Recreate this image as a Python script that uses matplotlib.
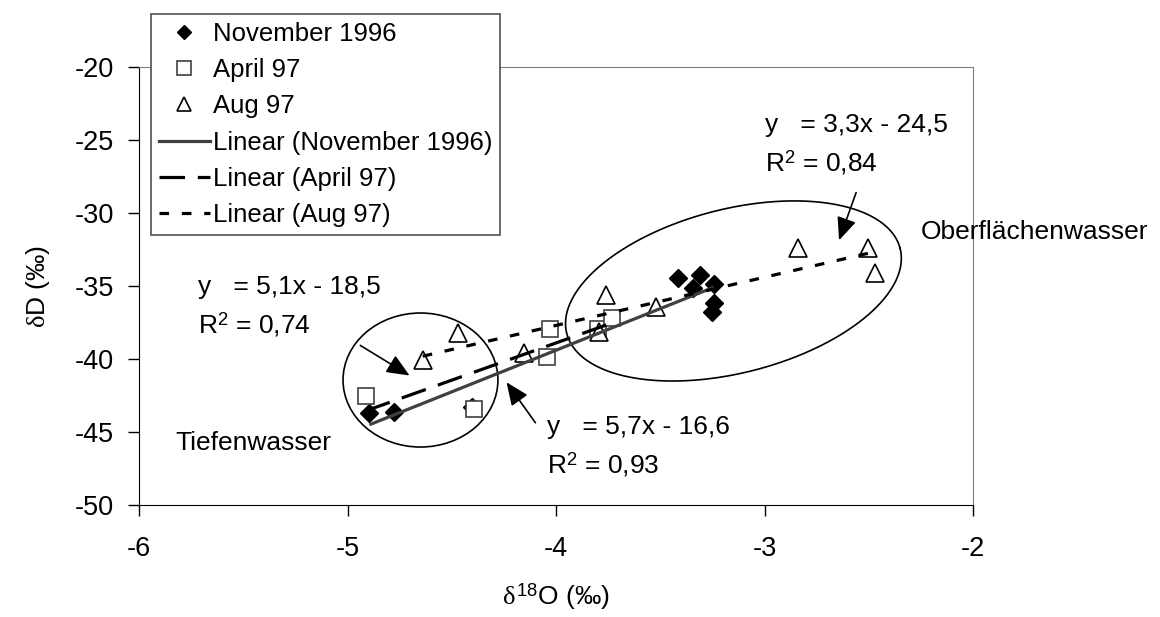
import numpy as np
import matplotlib
matplotlib.use("Agg")
import matplotlib.pyplot as plt
from matplotlib.patches import Ellipse
from matplotlib.lines import Line2D

plt.rcParams['font.family'] = ['Liberation Sans', 'DejaVu Sans']
plt.rcParams['mathtext.fontset'] = 'custom'
plt.rcParams['mathtext.rm'] = 'Liberation Sans'
plt.rcParams['mathtext.it'] = 'Liberation Serif'
plt.rcParams['axes.unicode_minus'] = False

# d18O / dD samples per campaign
nov_x = [-4.895, -4.777, -4.404, -3.413, -3.309, -3.242, -3.344, -3.242, -3.253]
nov_y = [-43.72, -43.65, -43.31, -34.47, -34.25, -34.88, -35.16, -36.18, -36.76]
apr_x = [-4.913, -4.393, -4.029, -4.042, -3.797, -3.733]
apr_y = [-42.51, -43.45, -37.95, -39.84, -37.97, -37.21]
aug_x = [-4.639, -4.471, -4.152, -3.792, -3.760, -3.520, -2.838, -2.502, -2.470]
aug_y = [-40.07, -38.24, -39.61, -38.13, -35.62, -36.42, -32.42, -32.42, -34.13]

# trendline coefficients (slope, intercept) and R2
nov_fit = (5.7, -16.6, "0,93")
apr_fit = (5.1, -18.5, "0,74")
aug_fit = (3.3, -24.5, "0,84")

fig = plt.figure(figsize=(11.6, 6.17), dpi=100)
ax = fig.add_axes([139/1160, 1-505/617, (973-139)/1160, (505-67)/617])

ax.set_xlim(-6, -2)
ax.set_ylim(-50, -20)
ax.set_xticks([-6, -5, -4, -3, -2])
ax.set_yticks(np.arange(-50, -19, 5))
ax.tick_params(direction='out', length=8, width=1, labelsize=19.5, colors='black')
ax.tick_params(axis='y', pad=10)
ax.tick_params(axis='x', pad=14)
for s in ['top', 'right']:
    ax.spines[s].set_color('#808080')
for s in ['left', 'bottom']:
    ax.spines[s].set_color('black')

ax.set_xlabel(r"$\delta^{\mathregular{18}}$O (‰)", fontsize=19, labelpad=14)
ax.set_ylabel(r"$\delta$D (‰)", fontsize=19, labelpad=16)

# markers
ax.plot(nov_x, nov_y, linestyle='none', marker='D', ms=9, mfc='black', mec='black', zorder=2)
ax.plot(apr_x, apr_y, linestyle='none', marker='s', ms=11.5, mfc='white', mec='#404040', mew=1.2, zorder=2)
ax.plot(aug_x, aug_y, linestyle='none', marker='^', ms=12.5, mfc='white', mec='black', mew=1.2, zorder=2)

# trendlines over each series' range
def trend(xs, fit, **kw):
    xx = np.array([min(xs), max(xs)])
    ax.plot(xx, fit[0] * xx + fit[1], zorder=3, **kw)

trend(nov_x, nov_fit, color='#404040', lw=2.3, solid_capstyle='butt')
trend(apr_x, apr_fit, color='black', lw=2.3, dashes=(8, 4))
trend(aug_x, aug_fit, color='black', lw=2.3, dashes=(3, 4))

# grouping ellipses
ax.add_patch(Ellipse((-4.650, -41.44), 0.743, 9.18, fill=False, ec='black', lw=1.2, zorder=1))
t = np.linspace(0, 2 * np.pi, 300)
cx, cy = -3.149, -35.34
ux, uy = 0.7995, 2.911
vx, vy = 0.0969, -5.438
ax.plot(cx + ux * np.cos(t) + vx * np.sin(t), cy + uy * np.cos(t) + vy * np.sin(t),
        color='black', lw=1.2, zorder=1)

# equations
def eq(x, y, fit):
    ax.text(x, y, "y   = %sx - %s" % (str(fit[0]).replace('.', ','), str(-fit[1]).replace('.', ',')),
            fontsize=19, va='center', ha='left')
    ax.text(x, y - 2.6, r"R$^{\mathregular{2}}$ = " + fit[2], fontsize=19, va='center', ha='left')

eq(-5.717, -35.07, apr_fit)
eq(-4.043, -44.66, nov_fit)
eq(-2.998, -23.97, aug_fit)

arrow = dict(arrowstyle='-|>,head_length=0.7,head_width=0.3', color='black', lw=1.2, mutation_scale=20)
ax.annotate("", xy=(-4.691, -41.23), xytext=(-4.950, -38.97), arrowprops=arrow)
ax.annotate("", xy=(-4.245, -41.44), xytext=(-4.091, -44.52), arrowprops=arrow)
ax.annotate("", xy=(-2.647, -32.05), xytext=(-2.556, -28.42), arrowprops=arrow)

ax.text(-2.249, -31.30, "Oberflächenwasser", fontsize=19, va='center', ha='left', clip_on=False)
ax.text(-5.827, -45.75, "Tiefenwasser", fontsize=19, va='center', ha='left')

handles = [
    Line2D([], [], linestyle='none', marker='D', ms=7.5, mfc='black', mec='black'),
    Line2D([], [], linestyle='none', marker='s', ms=9.5, mfc='white', mec='#404040', mew=1.2),
    Line2D([], [], linestyle='none', marker='^', ms=10, mfc='white', mec='black', mew=1.2),
    Line2D([], [], color='#404040', lw=2.3),
    Line2D([], [], color='black', lw=2.3, dashes=(8, 4)),
    Line2D([], [], color='black', lw=2.3, dashes=(3, 4)),
]
labels = ["November 1996", "April 97", "Aug 97",
          "Linear (November 1996)", "Linear (April 97)", "Linear (Aug 97)"]
leg = ax.legend(handles, labels, loc='upper left', bbox_to_anchor=(151/1160, 1-14/617),
                bbox_transform=fig.transFigure, borderaxespad=0, fontsize=18.5,
                frameon=True, fancybox=False, edgecolor='#505050', framealpha=1,
                handlelength=2.0, handletextpad=0.1, labelspacing=0.48, borderpad=0.3)
leg.get_frame().set_linewidth(1.2)
leg.set_zorder(5)

plt.savefig("out.png", dpi=100)
